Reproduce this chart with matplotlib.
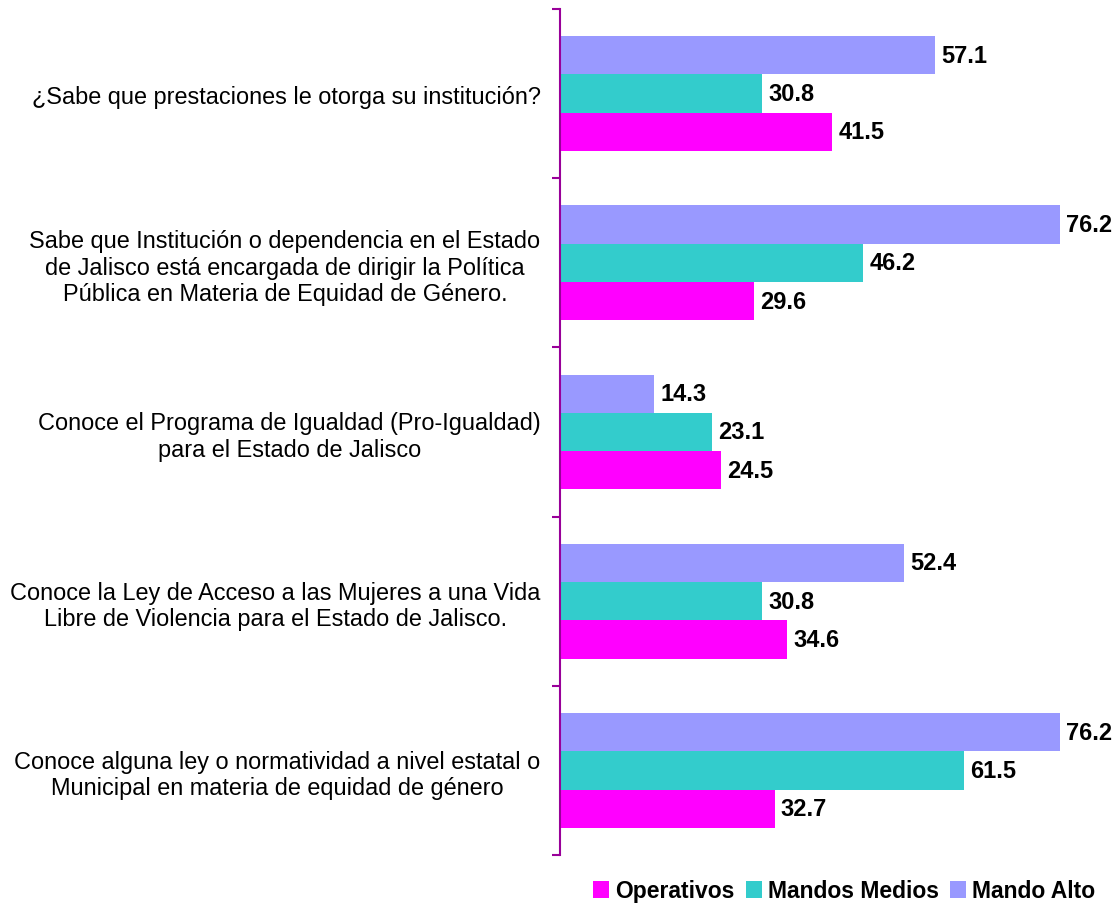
import matplotlib
matplotlib.use("Agg")
import matplotlib.pyplot as plt
import numpy as np

categories = [
    "¿Sabe que prestaciones le otorga su institución?",
    "Sabe que Institución o dependencia en el Estado\nde Jalisco está encargada de dirigir la Política\nPública en Materia de Equidad de Género.",
    "Conoce el Programa de Igualdad (Pro-Igualdad)\npara el Estado de Jalisco",
    "Conoce la Ley de Acceso a las Mujeres a una Vida\nLibre de Violencia para el Estado de Jalisco.",
    "Conoce alguna ley o normatividad a nivel estatal o\nMunicipal en materia de equidad de género",
]
series_names = ["Operativos", "Mandos Medios", "Mando Alto"]
operativos = [41.5, 29.6, 24.5, 34.6, 32.7]
mandos_medios = [30.8, 46.2, 23.1, 30.8, 61.5]
mando_alto = [57.1, 76.2, 14.3, 52.4, 76.2]

colors = ["#FF00FF", "#33CCCC", "#9999FF"]
plt.rcParams["font.family"] = ["Liberation Sans", "DejaVu Sans"]

fig = plt.figure(figsize=(11.2, 9.04), dpi=100)
ax = fig.add_axes([560/1120, 1 - 856/904, (1085 - 560)/1120, (856 - 10)/904])

y = np.arange(len(categories))
h = 0.226
offsets = [h, 0, -h]
for vals, off, c, name in zip([operativos, mandos_medios, mando_alto], offsets, colors, series_names):
    bars = ax.barh(y + off, vals, height=h, color=c, label=name, edgecolor="none")
    for b, v in zip(bars, vals):
        ax.annotate(f"{v:.1f}", (b.get_width(), b.get_y() + b.get_height()/2),
                    xytext=(4.5, 0), textcoords="offset points", va="center", ha="left",
                    fontsize=17, fontweight="bold")

ax.set_xlim(0, 80)
ax.set_ylim(4.5, -0.5)
ax.set_yticks(y)
ax.set_yticklabels(categories, fontsize=16.9, multialignment="center")
ax.set_yticks(np.arange(-0.5, 5.0, 1.0), minor=True)
ax.tick_params(axis="y", which="major", length=0, pad=14)
ax.tick_params(axis="y", which="minor", length=6, width=1.5, color="#990099", direction="out")
ax.set_xticks([])
for s in ["top", "right", "bottom"]:
    ax.spines[s].set_visible(False)
ax.spines["left"].set_color("#990099")
ax.spines["left"].set_linewidth(1.5)

fig.legend(loc="center", bbox_to_anchor=(844/1120, 1 - 892/904), ncol=3, frameon=False,
           handlelength=0.7, handleheight=0.7, handletextpad=0.25, columnspacing=0.5,
           prop={"size": 16.5, "weight": "bold"})

fig.savefig("out.png", dpi=100)
